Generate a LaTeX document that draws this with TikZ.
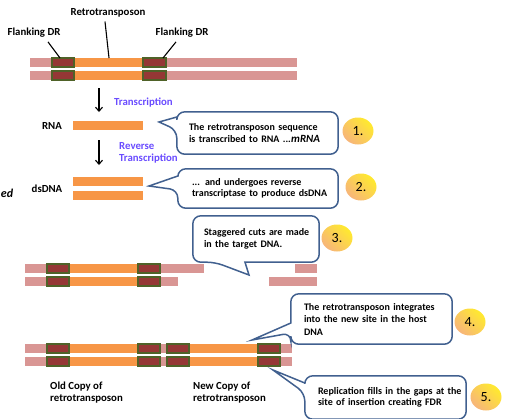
\documentclass[tikz,border=0pt]{standalone}
\usepackage{fontspec}
\setmainfont{Carlito}
\usetikzlibrary{arrows.meta,calc,shapes.geometric}

\definecolor{dnapink}{HTML}{D99694}
\definecolor{dnaorange}{HTML}{F79646}
\definecolor{drred}{HTML}{953735}
\definecolor{drgreen}{HTML}{4F6228}
\definecolor{callblue}{HTML}{41608F}
\definecolor{labelblue}{HTML}{6A4CFF}
\definecolor{ballyellow}{HTML}{FFEA2E}
\definecolor{ballorange}{HTML}{F7B57A}

\begin{document}
\begin{tikzpicture}[x=1pt, y=-1pt,
  every node/.style={font=\bfseries\fontsize{10.8}{12}\selectfont, inner sep=0pt},
  strand/.style={fill=dnapink},
  insert/.style={fill=dnaorange},
  drbox/.style={fill=drred, draw=drgreen, line width=1.5pt},
  pointer/.style={line width=1.1pt},
  flowarrow/.style={line width=1.1pt, -{Straight Barb[length=4pt, width=7pt]}},
  bluelabel/.style={text=labelblue, align=left},
  callbox/.style={align=left, inner ysep=0pt, font=\bfseries\fontsize{10}{11.5}\selectfont},
  callline/.style={draw=callblue, line width=1.5pt},
  numball/.style={ellipse, minimum width=31pt, minimum height=27pt,
    top color=ballyellow, bottom color=ballorange, shading angle=-45,
    font=\fontsize{14}{14}\selectfont}]

  \useasboundingbox (0,0) rectangle (505,418);

  % Host DNA carrying the retrotransposon
  \foreach \y in {58,71} {
    \fill[strand] (30,\y) rectangle (297,\y+9);
    \fill[insert] (74,\y) rectangle (143,\y+9);
    \draw[drbox] (52,\y) rectangle (74,\y+9);
    \draw[drbox] (143,\y) rectangle (166,\y+9);
  }

  % Labels on the host DNA
  \node (retro) at (108,13) {Retrotransposon};
  \node (fdrL) at (34,33) {Flanking DR};
  \node (fdrR) at (182,33) {Flanking DR};
  \coordinate (rt) at (109,58);
  \coordinate (dl) at (60,58);
  \coordinate (dr) at (163,58);
  \draw[pointer] ([xshift=-3pt,yshift=-4pt]retro.south) -- (rt);
  \draw[pointer] ([xshift=14pt,yshift=-4pt]fdrL.south) -- (dl);
  \draw[pointer] ([xshift=-6pt,yshift=-4pt]fdrR.south) -- (dr);

  % Transcription
  \coordinate (ar1) at (99,88);
  \coordinate (ar1e) at (99,112);
  \draw[flowarrow] (ar1) -- (ar1e);
  \node[bluelabel, anchor=west] (trans) at (114,103) {Transcription};

  \node (rnalbl) at (52,126) {RNA};
  \fill[insert] (73,121) rectangle (143,130);

  % Reverse transcription
  \coordinate (ar2) at (99,140);
  \coordinate (ar2e) at (99,165);
  \draw[flowarrow] (ar2) -- (ar2e);
  \node[bluelabel, anchor=west] (revtrans) at (119,153) {Reverse\\Transcription};

  \node (dslbl) at (47,189) {dsDNA};
  \fill[insert] (73,177) rectangle (143,186);
  \fill[insert] (73,191) rectangle (143,200);
  \node[font=\bfseries\itshape\fontsize{12}{12}\selectfont] (hand) at (7,193) {ed};

  % Target DNA with staggered cuts
  \foreach \y/\xa/\xb in {264/204/295, 277/178/269} {
    \fill[strand] (25,\y) rectangle (\xa,\y+9);
    \fill[strand] (\xb,\y) rectangle (317,\y+9);
    \fill[insert] (69,\y) rectangle (138,\y+9);
    \draw[drbox] (47,\y) rectangle (69,\y+9);
    \draw[drbox] (138,\y) rectangle (160,\y+9);
  }

  % Host DNA after integration
  \foreach \y in {344,357} {
    \fill[strand] (25,\y) rectangle (292,\y+9);
    \fill[insert] (69,\y) rectangle (138,\y+9);
    \fill[insert] (189,\y) rectangle (258,\y+9);
    \draw[drbox] (47,\y) rectangle (69,\y+9);
    \draw[drbox] (138,\y) rectangle (160,\y+9);
    \draw[drbox] (167,\y) rectangle (189,\y+9);
    \draw[drbox] (258,\y) rectangle (280,\y+9);
  }
  \node[anchor=west, align=left] (oldcopy) at (50,393) {Old Copy of\\retrotransposon};
  \node[anchor=west, align=left] (newcopy) at (193,393) {New Copy of\\retrotransposon};

  % Callouts
  \node[callbox, text width=137pt, inner xsep=12pt, minimum height=42pt] (c1) at (257.5,133)
    {\mbox{The retrotransposon sequence}\\is transcribed to RNA ...};
  \node[font=\bfseries\itshape\fontsize{11}{11}\selectfont, anchor=base west] (mrna) at (291,142) {mRNA};
  \node[callbox, text width=132pt, inner xsep=14pt, minimum height=39pt] (c2) at (258,188.5)
    {... and undergoes reverse\\\mbox{transcriptase to produce dsDNA}};
  \node[callbox, text width=104pt, inner xsep=11pt, minimum height=46pt] (c3) at (256,239)
    {\mbox{Staggered cuts are made}\\in the target DNA.};
  \node[callbox, text width=135pt, inner xsep=13pt, minimum height=50pt,
    font=\bfseries\fontsize{10}{12.5}\selectfont] (c4) at (371.5,319)
    {\mbox{The retrotransposon integrates}\\into the new site in the host\\DNA};
  \node[callbox, text width=135pt, inner xsep=13pt, minimum height=43pt] (c5) at (385.5,397.5)
    {\mbox{Replication fills in the gaps at the}\\site of insertion creating FDR};

  \coordinate (t1) at (159,122);
  \coordinate (t2) at (149,186);
  \coordinate (t3) at (249,275);
  \coordinate (t4) at (252,340);
  \coordinate (t5) at (273,370);

  \draw[callline] ($(c1.west)+(0,-16)$) [rounded corners=8pt] -- (c1.north west) -- (c1.north east)
    -- (c1.south east) -- (c1.south west) -- ($(c1.west)+(0,-3)$) [sharp corners] -- (t1) -- cycle;
  \draw[callline] ($(c2.west)+(0,-12.5)$) [rounded corners=8pt] -- (c2.north west) -- (c2.north east)
    -- (c2.south east) -- (c2.south west) -- ($(c2.west)+(0,1.5)$) [sharp corners] -- (t2) -- cycle;
  \draw[callline] ($(c3.south)+(-11,0)$) [rounded corners=8pt] -- (c3.south east) -- (c3.north east)
    -- (c3.north west) -- (c3.south west) -- ($(c3.south)+(-41,0)$) [sharp corners] -- (t3) -- cycle;
  \draw[callline] ($(c4.west)+(0,4)$) [rounded corners=8pt] -- (c4.north west) -- (c4.north east)
    -- (c4.south east) -- (c4.south west) -- ($(c4.west)+(0,14)$) [sharp corners] -- (t4) -- cycle;
  \draw[callline] ($(c5.west)+(0,-14.5)$) [rounded corners=8pt] -- (c5.north west) -- (c5.north east)
    -- (c5.south east) -- (c5.south west) -- ($(c5.west)+(0,-4.5)$) [sharp corners] -- (t5) -- cycle;

  % Step numbers
  \node[numball] (n1) at (358,131) {1.};
  \node[numball] (n2) at (361,187) {2.};
  \node[numball] (n3) at (337,238) {3.};
  \node[numball] (n4) at (470,322) {4.};
  \node[numball] (n5) at (486,397) {5.};
\end{tikzpicture}
\end{document}
